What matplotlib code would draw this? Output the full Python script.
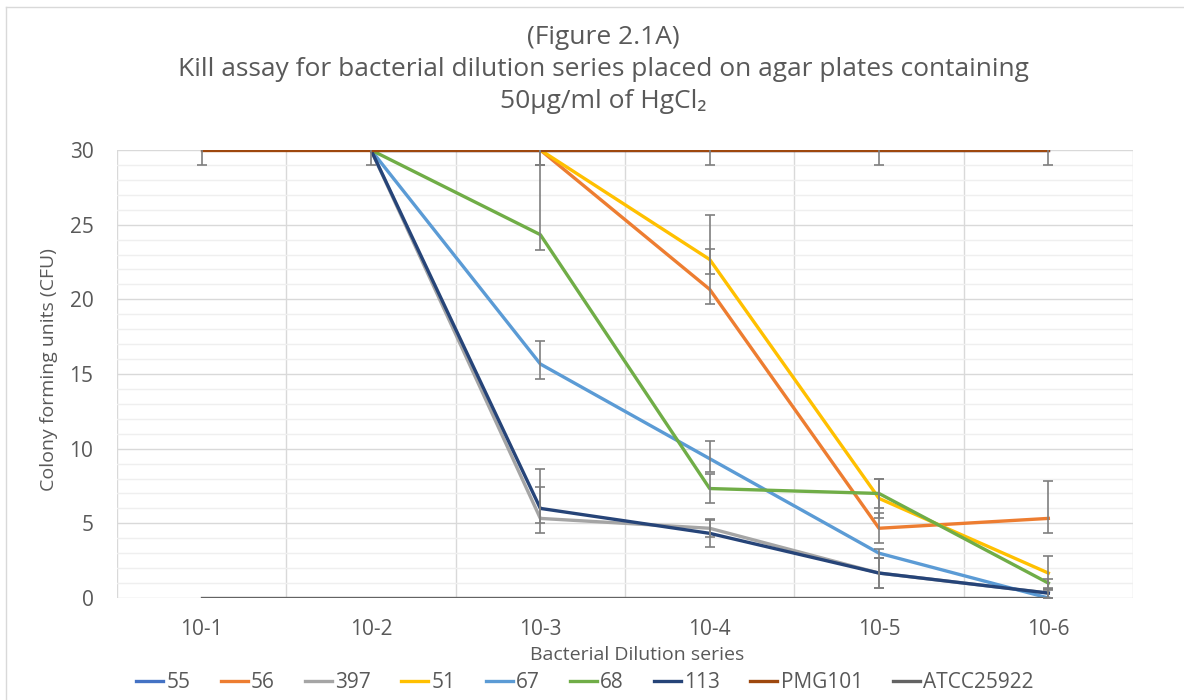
import numpy as np
import matplotlib
matplotlib.use("Agg")
import matplotlib.pyplot as plt
from matplotlib.lines import Line2D

plt.rcParams['font.family'] = ['Open Sans', 'DejaVu Sans']

nan = np.nan
categories = ["10-1", "10-2", "10-3", "10-4", "10-5", "10-6"]
series_names = ["55", "56", "397", "51", "67", "68", "113", "PMG101", "ATCC25922"]
colors = ["#4472C4", "#ED7D31", "#A5A5A5", "#FFC000", "#5B9BD5", "#70AD47",
          "#264478", "#9E480E", "#636363"]

s55 = [nan, 30, 30, 30, 30, 30]
s56 = [nan, 30, 30, 20.67, 4.67, 5.33]
s397 = [nan, 30, 5.33, 4.67, 1.67, 0.33]
s51 = [nan, 30, 30, 22.67, 6.67, 1.67]
s67 = [nan, 30, 15.67, 9.33, 3.0, 0.0]
s68 = [nan, 30, 24.33, 7.33, 7.0, 1.0]
s113 = [nan, 30, 6.0, 4.33, 1.67, 0.33]
pmg101 = [30, 30, 30, 30, 30, 30]
atcc = [0, 0, 0, 0, 0, 0]

# error bars (lower, upper)
e55_lo = [0, 0, 0, 0, 0, 0];          e55_hi = [0, 0, 0, 0, 0, 0]
e56_lo = [0, 0, 1, 1, 1, 0.95];       e56_hi = [0, 0, 1, 2.67, 1, 2.53]
e397_lo = [0, 0, 1, 0.6, 1, 0.3];     e397_hi = [0, 0, 2.13, 0.6, 1, 0.3]
e51_lo = [0, 0, 1, 1, 1.33, 1.14];    e51_hi = [0, 0, 1, 3, 1.33, 1.14]
e67_lo = [0, 0, 1, 0.87, 0.3, 0];     e67_hi = [0, 0, 1.53, 1.2, 0.3, 0]
e68_lo = [0, 0, 1, 0.95, 1, 0.3];     e68_hi = [0, 0, 4.67, 1, 1, 0.3]
e113_lo = [0, 0, 1, 0.9, 1, 0.3];     e113_hi = [0, 0, 2.67, 0.9, 1, 0.3]
epmg_lo = [1, 1, 1, 1, 1, 1];         epmg_hi = [1, 1, 1, 1, 1, 1]
eatcc_lo = [0, 0, 0, 0, 0, 0];        eatcc_hi = [0, 0, 0, 0, 0, 0]

values = [s55, s56, s397, s51, s67, s68, s113, pmg101, atcc]
err_lo = [e55_lo, e56_lo, e397_lo, e51_lo, e67_lo, e68_lo, e113_lo, epmg_lo, eatcc_lo]
err_hi = [e55_hi, e56_hi, e397_hi, e51_hi, e67_hi, e68_hi, e113_hi, epmg_hi, eatcc_hi]

W, H = 1184, 700
fig = plt.figure(figsize=(W/100, H/100), dpi=100)
ax = fig.add_axes([117/W, 1-598/H, (1133-117)/W, (598-150)/H])

x = np.arange(len(categories))
txt = "#595959"
for name, vals, lo, hi, c in zip(series_names, values, err_lo, err_hi, colors):
    v = np.array(vals, dtype=float)
    lo = np.array(lo, dtype=float); hi = np.array(hi, dtype=float)
    ax.plot(x, v, color=c, lw=2.4, solid_joinstyle='round', zorder=3)
    mask = (lo > 0) | (hi > 0)
    if mask.any():
        ax.errorbar(x[mask], v[mask], yerr=[lo[mask], hi[mask]], fmt='none',
                    ecolor="#7F7F7F", elinewidth=1.2, capsize=3.5, capthick=1.2,
                    zorder=4)

ax.set_xlim(-0.5, len(categories) - 0.5)
ax.set_ylim(0, 30)
ax.set_yticks(np.arange(0, 31, 5))
ax.set_yticks(np.arange(0, 31, 1), minor=True)
ax.set_xticks(x)
ax.set_xticklabels(categories)
ax.set_xticks(np.arange(-0.5, len(categories), 1), minor=True)
ax.grid(which='major', axis='y', color="#D9D9D9", lw=1.0, zorder=0)
ax.grid(which='minor', axis='y', color="#EFEFEF", lw=1.0, zorder=0)
ax.grid(which='minor', axis='x', color="#D9D9D9", lw=1.0, zorder=0)
ax.grid(which='major', axis='x', visible=False)
ax.set_axisbelow(True)
for sp in ax.spines.values():
    sp.set_visible(False)
ax.tick_params(which='both', length=0, colors=txt, labelsize=15)
ax.tick_params(axis='x', pad=15)
ax.tick_params(axis='y', pad=17)

fig.text(49/W, 1-370/H, "Colony forming units (CFU)", rotation=90, ha='center',
         va='center', color=txt, fontsize=14)
fig.text(637/W, 1-655/H, "Bacterial Dilution series", ha='center', va='center',
         color=txt, fontsize=14)

tx = 603/W
fig.text(tx, 1-37/H, "(Figure 2.1A)", ha='center', va='center', color=txt, fontsize=19)
fig.text(tx, 1-70/H,
         "Kill assay for bacterial dilution series placed on agar plates containing",
         ha='center', va='center', color=txt, fontsize=19)
fig.text(tx, 1-102/H, "50µg/ml of HgCl₂", ha='center', va='center',
         color=txt, fontsize=19)

handles = [Line2D([0], [0], color=c, lw=2.4) for c in colors]
leg = fig.legend(handles, series_names, loc='center', bbox_to_anchor=(585/W, 1-683/H),
                 ncol=9, frameon=False, fontsize=15, handlelength=1.3,
                 handletextpad=0.15, columnspacing=1.45, borderpad=0, borderaxespad=0)
for t in leg.get_texts():
    t.set_color(txt)

# chart-area border (top and left visible)
fig.add_artist(Line2D([6/W, 6/W], [0, 1-7/H], transform=fig.transFigure,
                      color="#D9D9D9", lw=1.0))
fig.add_artist(Line2D([6/W, 1], [1-7/H, 1-7/H], transform=fig.transFigure,
                      color="#D9D9D9", lw=1.0))

fig.savefig("out.png", dpi=100)
